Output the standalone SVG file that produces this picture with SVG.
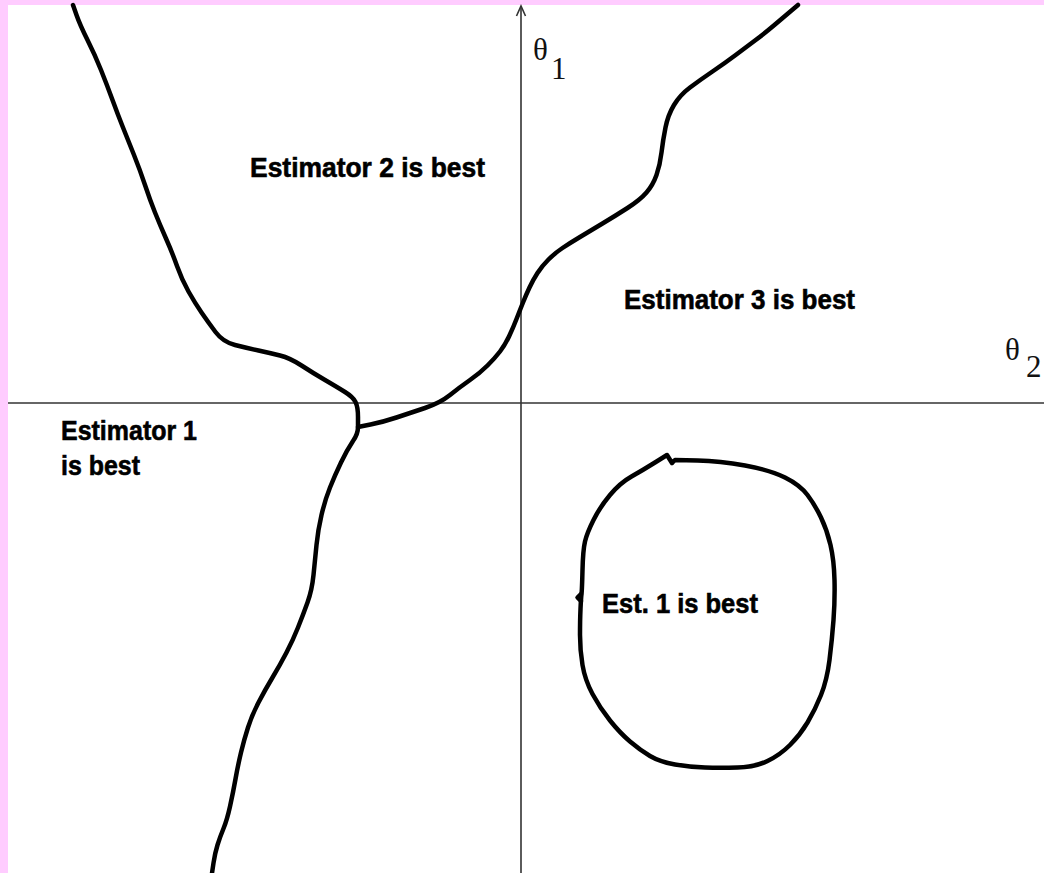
<svg xmlns="http://www.w3.org/2000/svg" width="1044" height="873" viewBox="0 0 1044 873">
<style>
.curve{fill:none;stroke:#000;stroke-width:4.5;stroke-linejoin:round;stroke-linecap:round}
.axis{fill:none;stroke:#333;stroke-width:1.6}
.lbl{font-family:"Liberation Sans",Arial,sans-serif;font-weight:bold;font-size:28px;fill:#000;stroke:#000;stroke-width:0.6}
.sym{font-family:"Liberation Serif","Times New Roman",serif;font-size:31px;fill:#111}
</style>
<rect x="0" y="0" width="1044" height="873" fill="#FFCCFF"/>
<rect x="8" y="5" width="1036" height="868" fill="#FFFFFF"/>
<g id="axes">
<line class="axis" x1="8" y1="403" x2="1044" y2="403"/>
<line class="axis" x1="521" y1="6" x2="521" y2="873"/>
<polyline class="axis" points="516.5,16 521,6 525.5,16"/>
</g>
<g id="curves">
<path id="boundary-1-2" class="curve" d="M73,5 L76.5,15 Q80,25 87.5,40 Q95,55 101,70 Q107,85 112.5,100 Q118,115 123,127.5 Q128,140 134,155 Q140,170 145,185 Q150,200 155,212.5 Q160,225 166,238.5 Q172,252 177,266 Q182,280 188.5,291.5 Q195,303 201.5,312.5 Q208,322 215.5,332 Q223,342 235,345 Q247,348 258.5,350.5 Q270,353 280,355.5 Q290,358 301.5,365.5 Q313,373 325,380 Q337,387 345,392 Q353,397 355.5,402 Q358,407 358,417 L358,427 Q358,434 353,441 Q347,450 341,462.5 Q335,475 330,487.5 Q325,500 321.5,515 Q318,530 316.5,545 Q315,560 313.5,575 Q312,590 307.5,602.5 Q303,615 298,627.5 Q293,640 286.5,652.5 Q280,665 272.5,677.5 Q265,690 258.5,702.5 Q252,715 248,727.5 Q244,740 241,752.5 Q238,765 235.5,779 Q233,793 230,806.5 Q227,820 223.5,828.5 Q220,837 217.5,845 Q215,853 213.5,863 L212,873"/>
<path id="boundary-2-3" class="curve" d="M358,427 L370.5,424.5 Q383,422 396.5,417.5 Q410,413 425,408 Q440,403 450,395 Q460,387 470,380 Q480,373 487.5,365.5 Q495,358 500,351.5 Q505,345 509,336.5 Q513,328 516.5,319 Q520,310 523,302.5 Q526,295 529.5,287.5 Q533,280 537.5,273 Q542,266 548.5,259.5 Q555,253 562.5,248 Q570,243 580,237 Q590,231 602.5,223.5 Q615,216 627.5,208 Q640,200 646.5,192.5 Q653,185 656.5,175 Q660,165 661.5,152.5 Q663,140 665.5,127.5 Q668,115 674,105 Q680,95 690,87.5 Q700,80 712.5,71.5 Q725,63 735,55.5 Q745,48 755,40.5 Q765,33 775,24.5 Q785,16 791.5,10.5 L798,5"/>
</g>
<g id="loop">
<path class="curve" d="M672,463 L675,460 L697.5,460.5 Q720,461 745,465.5 Q770,470 785,477.5 Q800,485 807.5,495 Q815,505 821,517.5 Q827,530 830.5,545 Q834,560 834.5,580 Q835,600 833.5,620 Q832,640 829.5,660 Q827,680 821,695 Q815,710 807.5,722.5 Q800,735 790,745 Q780,755 767.5,761 Q755,767 737.5,767.5 Q720,768 705,767.5 Q690,767 675,764.5 Q660,762 650,756 Q640,750 630,741.5 Q620,733 610,720.5 Q600,708 592.5,694 Q585,680 582.5,665 Q580,650 580,635 Q580,620 580.5,609 Q581,598 581.5,594 Q582,590 582.5,570 Q583,550 585,541.5 Q587,533 593.5,520 Q600,507 610,495 Q620,483 631.5,476.5 Q643,470 655,462.5 L667,455 L672,463"/>
<path class="curve" d="M581,594 L577.5,597.5 L581,601"/>
</g>
<g id="labels">
<text class="lbl" x="250" y="177" textLength="235" lengthAdjust="spacingAndGlyphs">Estimator 2 is best</text>
<text class="lbl" x="624" y="309" textLength="231" lengthAdjust="spacingAndGlyphs">Estimator 3 is best</text>
<text class="lbl" x="61" y="440" textLength="136" lengthAdjust="spacingAndGlyphs">Estimator 1</text>
<text class="lbl" x="61" y="475" textLength="79" lengthAdjust="spacingAndGlyphs">is best</text>
<text class="lbl" x="602" y="613" textLength="156" lengthAdjust="spacingAndGlyphs">Est. 1 is best</text>
<text class="sym" x="533" y="60">θ</text>
<text class="sym" x="551" y="79">1</text>
<text class="sym" x="1005" y="360">θ</text>
<text class="sym" x="1026" y="377">2</text>
</g>
</svg>
